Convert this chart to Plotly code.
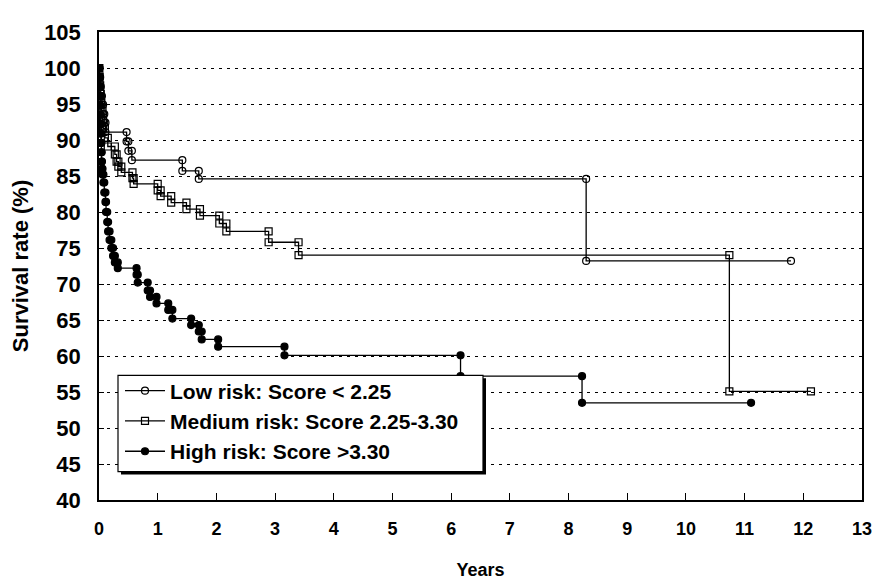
import plotly.graph_objects as go

# ---------------- data ----------------
low_name = "Low risk: Score < 2.25"
low_times = [0.01, 0.02, 0.03, 0.05, 0.07, 0.09, 0.11, 0.47, 0.50, 0.56, 1.42, 1.70, 8.30]
low_surv = [98.7, 97.4, 96.1, 94.9, 93.6, 92.4, 91.1, 89.8, 88.5, 87.2, 85.7, 84.6, 73.2]
low_end = 11.79

med_name = "Medium risk: Score 2.25-3.30"
med_times = [0.005, 0.01, 0.02, 0.03, 0.04, 0.06, 0.07, 0.10, 0.15, 0.27, 0.30, 0.33,
             0.38, 0.57, 0.59, 1.00, 1.05, 1.23, 1.49, 1.72, 2.05, 2.17, 2.89, 3.40, 10.74]
med_surv = [98.8, 97.6, 96.4, 95.2, 94.0, 92.8, 91.6, 90.3, 89.1, 88.0, 87.0, 86.3,
            85.5, 84.7, 83.9, 83.0, 82.2, 81.3, 80.4, 79.5, 78.4, 77.3, 75.8, 74.0, 55.1]
med_end = 12.13

high_name = "High risk: Score >3.30"
high_times = [0.004, 0.008, 0.012, 0.016, 0.02, 0.025, 0.03, 0.035, 0.04, 0.045, 0.05,
              0.06, 0.075, 0.09, 0.11, 0.12, 0.14, 0.155, 0.18, 0.21, 0.24, 0.27, 0.32,
              0.64, 0.66, 0.83, 0.87, 0.98, 1.18, 1.25, 1.57, 1.70, 1.75, 2.03, 3.16,
              6.16, 8.23]
high_surv = [98.7, 97.4, 96.1, 94.8, 93.5, 92.2, 90.9, 89.6, 88.3, 87.0, 86.0,
             85.2, 84.1, 82.7, 81.4, 80.0, 78.6, 77.3, 76.1, 75.0, 73.9, 73.0, 72.2,
             71.3, 70.2, 69.1, 68.2, 67.3, 66.4, 65.2, 64.3, 63.4, 62.3, 61.3, 60.1,
             57.2, 53.5]
high_end = 11.11

start_surv = 100.0
x_ticks = list(range(0, 14))
y_ticks = list(range(40, 106, 5))


def km_steps(times, surv, t_end, s0=start_surv):
    xs, ys = [0.0], [s0]
    prev = s0
    for t, s in zip(times, surv):
        xs += [t, t]
        ys += [prev, s]
        prev = s
    xs.append(t_end)
    ys.append(prev)
    return xs, ys


FONT = "Liberation Sans, Arial, sans-serif"
W, H = 886, 581
ML, MR, MT, MB = 91, 32, 20, 84
PW, PH = W - ML - MR, H - MT - MB


def px_to_paper_x(px):
    return (px - ML) / PW


def px_to_paper_y(py):
    return (H - MB - py) / PH


fig = go.Figure()
series = [
    (low_name, low_times, low_surv, low_end, dict(symbol="circle-open", color="black")),
    (med_name, med_times, med_surv, med_end, dict(symbol="square-open", color="black")),
    (high_name, high_times, high_surv, high_end, dict(symbol="circle", color="black")),
]
for name, t, s, te, mk in series:
    xs, ys = km_steps(t, s, te)
    fig.add_trace(go.Scatter(
        x=xs, y=ys, mode="lines+markers", name=name,
        line=dict(color="black", width=1.3),
        marker=dict(size=7, line=dict(color="black", width=1.2), **mk),
    ))

# legend frame with drop shadow
box = dict(x0=110, x1=475, y0=370, y1=468)
sh = 3
fig.add_shape(type="rect", xref="paper", yref="paper",
              x0=px_to_paper_x(box["x0"] + sh), x1=px_to_paper_x(box["x1"] + sh),
              y0=px_to_paper_y(box["y1"] + sh), y1=px_to_paper_y(box["y0"] + sh),
              fillcolor="black", line=dict(width=0), layer="above")
fig.add_shape(type="rect", xref="paper", yref="paper",
              x0=px_to_paper_x(box["x0"]), x1=px_to_paper_x(box["x1"]),
              y0=px_to_paper_y(box["y1"]), y1=px_to_paper_y(box["y0"]),
              fillcolor="white", line=dict(color="black", width=1.2), layer="above")

fig.update_layout(
    width=W, height=H,
    margin=dict(l=ML, r=MR, t=MT, b=MB),
    paper_bgcolor="white", plot_bgcolor="white",
    font=dict(family=FONT, size=18, color="black", weight="bold"),
    showlegend=True,
    legend=dict(
        x=px_to_paper_x(112), y=px_to_paper_y(365), xanchor="left", yanchor="top",
        bgcolor="rgba(0,0,0,0)", borderwidth=0,
        font=dict(family=FONT, size=21, color="black", weight="bold"),
        itemwidth=40, tracegroupgap=0,
    ),
    xaxis=dict(
        range=[0, 13], tickmode="array", tickvals=x_ticks,
        ticks="inside", ticklen=7, tickcolor="black", tickwidth=1,
        showline=True, linecolor="black", linewidth=1.5, mirror=True,
        showgrid=False, zeroline=False,
        ticklabelstandoff=12,
        tickfont=dict(family=FONT, size=18, color="black", weight="bold"),
        title=dict(text="Years", standoff=25,
                   font=dict(family=FONT, size=18, color="black", weight="bold")),
    ),
    yaxis=dict(
        range=[40, 105], tickmode="array", tickvals=y_ticks,
        ticks="inside", ticklen=5, tickcolor="black", tickwidth=1,
        showline=True, linecolor="black", linewidth=1.5, mirror=True,
        showgrid=True, gridcolor="black", gridwidth=1, griddash="3px,5px",
        zeroline=False,
        ticklabelstandoff=12,
        tickfont=dict(family=FONT, size=22, color="black", weight="bold"),
        title=dict(text="Survival rate (%)", standoff=9,
                   font=dict(family=FONT, size=22, color="black", weight="bold")),
    ),
)

fig.write_html("out.html")
